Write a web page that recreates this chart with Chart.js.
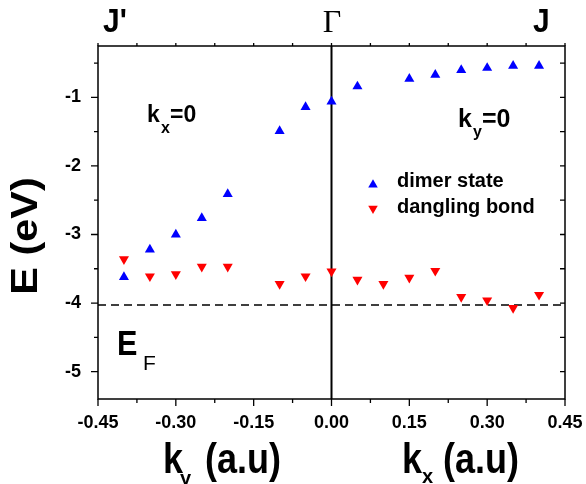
<!DOCTYPE html>
<html>
<head>
<meta charset="utf-8">
<script src="https://cdn.jsdelivr.net/npm/chart.js@4.4.0/dist/chart.umd.min.js"></script>
<style>
  body { margin: 0; background: #fff; }
  canvas { display: block; }
</style>
</head>
<body>
<canvas id="bands" width="586" height="484"></canvas>
<script>
// k (a.u): negative side is along k_y, positive side along k_x
const dimerK = [-0.40, -0.35, -0.30, -0.25, -0.20, -0.10, -0.05, 0.00, 0.05, 0.15, 0.20, 0.25, 0.30, 0.35, 0.40]
const dimerE = [-3.62, -3.22, -3.00, -2.76, -2.41, -1.49, -1.14, -1.06, -0.84, -0.73, -0.67, -0.60, -0.57, -0.54, -0.54]

const danglingK = [-0.40, -0.35, -0.30, -0.25, -0.20, -0.10, -0.05, 0.00, 0.05, 0.10, 0.15, 0.20, 0.25, 0.30, 0.35, 0.40]
const danglingE = [-3.36, -3.61, -3.58, -3.47, -3.47, -3.72, -3.61, -3.54, -3.66, -3.72, -3.63, -3.53, -3.91, -3.96, -4.07, -3.88]

const fermiLevel = -4.03

const xTicks = [-0.45, -0.30, -0.15, 0, 0.15, 0.30, 0.45]
const xTickLabels = ['-0.45', '-0.30', '-0.15', '0.00', '0.15', '0.30', '0.45']
const yTicks = [-5, -4, -3, -2, -1]
const yTickLabels = ['-5', '-4', '-3', '-2', '-1']
const xRange = [-0.45, 0.45]
const yRange = [-5.4, -0.25]

const sans = '"Liberation Sans", Arial, sans-serif'
const serif = '"Liberation Serif", "Times New Roman", serif'

//helper for annotation text
function put(ctx, s, x, y, font, sx = 1, sy = 1, align = 'left') {
    ctx.save()
    ctx.translate(x, y)
    ctx.scale(sx, sy)
    ctx.font = font
    ctx.textAlign = align
    ctx.textBaseline = 'alphabetic'
    ctx.fillStyle = '#000'
    ctx.fillText(s, 0, 0)
    ctx.restore()
}

//box + ticks on all four sides
const frame = {
    id: 'frame',
    beforeDatasetsDraw(chart) {
        const {ctx, chartArea: a, scales: {x, y}} = chart
        ctx.save()
        ctx.strokeStyle = '#000'
        ctx.lineWidth = 1.5
        ctx.strokeRect(a.left, a.top, a.right - a.left, a.bottom - a.top)
        ctx.lineWidth = 1.3
        ctx.beginPath()
        for (let i = -6; i <= 6; i++) {
            const px = x.getPixelForValue(i * 0.075)
            const major = i % 2 === 0
            ctx.moveTo(px, a.bottom); ctx.lineTo(px, a.bottom + (major ? 7 : 4))
            ctx.moveTo(px, a.top); ctx.lineTo(px, a.top - 3)
        }
        for (let v = -5; v <= -0.5; v += 0.5) {
            const py = y.getPixelForValue(v)
            const major = Number.isInteger(v)
            ctx.moveTo(a.left, py); ctx.lineTo(a.left - (major ? 7 : 4), py)
            ctx.moveTo(a.right, py); ctx.lineTo(a.right - 5, py)
        }
        ctx.stroke()
        ctx.restore()
    }
}

//titles, labels, legend
const labels = {
    id: 'labels',
    afterDraw(chart) {
        const ctx = chart.ctx
        // top symmetry points
        put(ctx, "J'", 103, 32, 'bold 30px ' + sans, 1, 1.1)
        put(ctx, 'Γ', 332, 32, '32px ' + serif, 1, 1, 'center')
        put(ctx, 'J', 533, 32, 'bold 30px ' + sans, 1, 1.1)

        // y axis title
        ctx.save()
        ctx.translate(37, 236)
        ctx.rotate(-Math.PI / 2)
        put(ctx, 'E (eV)', 0, 0, 'bold 36px ' + sans, 1.15, 1, 'center')
        ctx.restore()

        // x axis titles
        put(ctx, 'k', 163, 473, 'bold 36px ' + sans, 1, 1.18)
        put(ctx, 'y', 180, 485, 'bold 20px ' + sans)
        put(ctx, '(a.u)', 205, 473, 'bold 36px ' + sans, 1, 1.18)
        put(ctx, 'k', 402, 473, 'bold 36px ' + sans, 1, 1.18)
        put(ctx, 'x', 422, 483, 'bold 20px ' + sans)
        put(ctx, '(a.u)', 443, 473, 'bold 36px ' + sans, 1, 1.18)

        // in-plot notes
        put(ctx, 'k', 147, 122, 'bold 23px ' + sans)
        put(ctx, 'x', 161, 133, 'bold 16px ' + sans)
        put(ctx, '=0', 170, 122, 'bold 23px ' + sans)
        put(ctx, 'k', 458, 127, 'bold 25px ' + sans)
        put(ctx, 'y', 473, 137, 'bold 16px ' + sans)
        put(ctx, '=0', 482, 127, 'bold 25px ' + sans)
        put(ctx, 'E', 117, 355, 'bold 34px ' + sans, 0.9, 1.05)
        put(ctx, 'F', 143, 370, '21px ' + sans)

        // legend
        const rows = [[184.8, 0, 187], [208.5, 180, 213]]
        chart.data.datasets.slice(0, 2).forEach((ds, i) => {
            ctx.save()
            ctx.fillStyle = ds.backgroundColor
            ctx.strokeStyle = ds.borderColor
            Chart.helpers.drawPoint(ctx, {pointStyle: 'triangle', radius: 5.5, rotation: rows[i][1], borderWidth: 0}, 373, rows[i][0])
            ctx.restore()
            put(ctx, ds.label, 397, rows[i][2], 'bold 20px ' + sans)
        })
    }
}

const chartData = {
    datasets: [{
        label: 'dimer state',
        data: dimerK.map((k, i) => ({x: k, y: dimerE[i]})),
        pointStyle: 'triangle',
        pointRadius: 5.8,
        pointBorderWidth: 0,
        backgroundColor: '#0000ff',
        borderColor: '#0000ff'
    }, {
        label: 'dangling bond',
        data: danglingK.map((k, i) => ({x: k, y: danglingE[i]})),
        pointStyle: 'triangle',
        pointRotation: 180,
        pointRadius: 5.8,
        pointBorderWidth: 0,
        backgroundColor: '#ff0000',
        borderColor: '#ff0000'
    }, {
        type: 'line',
        label: 'EF',
        data: [{x: xRange[0], y: fermiLevel}, {x: xRange[1], y: fermiLevel}],
        borderColor: '#000',
        borderWidth: 1.5,
        borderDash: [8, 5],
        pointRadius: 0
    }, {
        type: 'line',
        label: 'Gamma',
        data: [{x: 0, y: yRange[0]}, {x: 0, y: yRange[1]}],
        borderColor: '#000',
        borderWidth: 2,
        pointRadius: 0
    }]
}

const config = {
    type: 'scatter',
    data: chartData,
    options: {
        responsive: false,
        animation: false,
        devicePixelRatio: 1,
        layout: {padding: {top: 46, right: 21, left: 0, bottom: 0}},
        plugins: {
            legend: {display: false},
            tooltip: {enabled: false}
        },
        scales: {
            x: {
                type: 'linear',
                min: xRange[0],
                max: xRange[1],
                afterBuildTicks: s => { s.ticks = xTicks.map(v => ({value: v})) },
                afterFit: s => { s.height = 85; s.paddingLeft = 0; s.paddingRight = 0 },
                grid: {display: false, drawTicks: false},
                border: {display: false},
                ticks: {
                    autoSkip: false,
                    maxRotation: 0,
                    padding: 13,
                    color: '#000',
                    font: {family: sans, size: 18, weight: 'bold'},
                    callback: (v, i) => xTickLabels[i]
                }
            },
            y: {
                type: 'linear',
                min: yRange[0],
                max: yRange[1],
                afterBuildTicks: s => { s.ticks = yTicks.map(v => ({value: v})) },
                afterFit: s => { s.width = 98; s.paddingTop = 0; s.paddingBottom = 0 },
                grid: {display: false, drawTicks: false},
                border: {display: false},
                ticks: {
                    padding: 17,
                    color: '#000',
                    font: {family: sans, size: 18, weight: 'bold'},
                    callback: (v, i) => yTickLabels[i]
                }
            }
        }
    },
    plugins: [frame, labels]
}

const bandChart = new Chart(document.getElementById('bands'), config)
</script>
</body>
</html>
